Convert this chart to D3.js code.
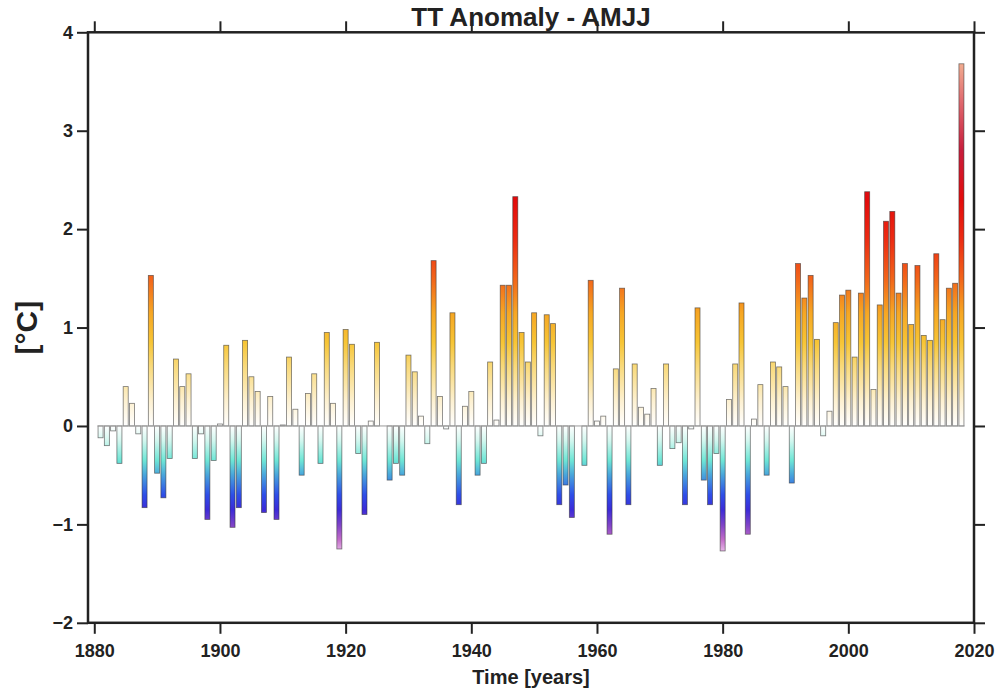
<!DOCTYPE html>
<html>
<head>
<meta charset="utf-8">
<script src="https://cdn.jsdelivr.net/npm/d3@7"></script>
<style>
  html, body { margin: 0; padding: 0; background: #fff; }
  svg { display: block; }
  text { font-family: "Liberation Sans", Arial, Helvetica, sans-serif; font-weight: bold; fill: #222; }
</style>
</head>
<body>
<svg id="chart" width="1001" height="690"></svg>
<script>
// ---------------- data ----------------
const firstYear = 1881;
const anomalies = [
  -0.12, -0.20, -0.05, -0.38, 0.40, 0.23, -0.08, -0.83, 1.53, -0.48,   // 1881-1890
  -0.73, -0.33, 0.68, 0.40, 0.53, -0.33, -0.08, -0.95, -0.35, 0.02,    // 1891-1900
  0.82, -1.03, -0.83, 0.87, 0.50, 0.35, -0.88, 0.30, -0.95, 0.01,      // 1901-1910
  0.70, 0.17, -0.50, 0.33, 0.53, -0.38, 0.95, 0.23, -1.25, 0.98,       // 1911-1920
  0.83, -0.28, -0.90, 0.05, 0.85, 0.00, -0.55, -0.38, -0.50, 0.72,     // 1921-1930
  0.55, 0.10, -0.18, 1.68, 0.30, -0.03, 1.15, -0.80, 0.20, 0.35,       // 1931-1940
  -0.50, -0.38, 0.65, 0.06, 1.43, 1.43, 2.33, 0.95, 0.65, 1.15,        // 1941-1950
  -0.10, 1.13, 1.04, -0.80, -0.60, -0.93, 0.00, -0.40, 1.48, 0.05,     // 1951-1960
  0.10, -1.10, 0.58, 1.40, -0.80, 0.63, 0.19, 0.12, 0.38, -0.40,       // 1961-1970
  0.63, -0.23, -0.17, -0.80, -0.03, 1.20, -0.55, -0.80, -0.28, -1.27,  // 1971-1980
  0.27, 0.63, 1.25, -1.10, 0.07, 0.42, -0.50, 0.65, 0.60, 0.40,        // 1981-1990
  -0.58, 1.65, 1.30, 1.53, 0.88, -0.10, 0.15, 1.05, 1.33, 1.38,        // 1991-2000
  0.70, 1.35, 2.38, 0.37, 1.23, 2.08, 2.18, 1.35, 1.65, 1.03,          // 2001-2010
  1.63, 0.92, 0.87, 1.75, 1.08, 1.40, 1.45, 3.68                       // 2011-2018
];
const years = anomalies.map((_, i) => firstYear + i);
const xTicks = [1880, 1900, 1920, 1940, 1960, 1980, 2000, 2020];
const yTicks = [-2, -1, 0, 1, 2, 3, 4];
const titleText = "TT Anomaly - AMJJ";
const xLabel = "Time [years]";
const yLabel = "[°C]";

// colormap (value -> colour), applied along the value axis
const colorStops = [
  [-1.30, "#f0c8ee"], [-1.15, "#c06ac8"], [-1.00, "#7c42c8"], [-0.85, "#3b2bd8"],
  [-0.70, "#2e4ee8"], [-0.50, "#48a4dc"], [-0.35, "#6ee6d6"], [-0.15, "#d2f7ef"],
  [0.00, "#ffffff"],
  [0.25, "#fdf1d2"], [0.60, "#f9da7c"], [0.85, "#f7c535"], [1.15, "#f6a623"],
  [1.50, "#f2641a"], [1.90, "#ec2b13"], [2.30, "#e30b0b"], [2.80, "#c81d3c"],
  [3.30, "#e06a6f"], [3.75, "#f4b896"]
];

// ---------------- layout ----------------
const svg = d3.select("#chart");
const L = 88, R = 974, T = 32.3, B = 622.8;
const x = d3.scaleLinear().domain([1879, 2020]).range([L, R]);
const y = d3.scaleLinear().domain([-2, 4]).range([B, T]);

// gradient in user space so colour follows the value axis
const defs = svg.append("defs");
const grad = defs.append("linearGradient")
  .attr("id", "valGrad")
  .attr("gradientUnits", "userSpaceOnUse")
  .attr("x1", 0).attr("x2", 0)
  .attr("y1", y(-2)).attr("y2", y(4));
colorStops.forEach(([v, c]) => {
  grad.append("stop")
    .attr("offset", ((v + 2) / 6))
    .attr("stop-color", c);
});

// bars
const bw = 0.8;
svg.append("g").selectAll("rect")
  .data(years.map((yr, i) => ({ yr, v: anomalies[i] })))
  .join("rect")
  .attr("x", d => x(d.yr - bw / 2))
  .attr("width", d => x(d.yr + bw / 2) - x(d.yr - bw / 2))
  .attr("y", d => y(Math.max(0, d.v)))
  .attr("height", d => Math.abs(y(d.v) - y(0)))
  .attr("fill", "url(#valGrad)")
  .attr("stroke", "#333")
  .attr("stroke-opacity", 0.65)
  .attr("stroke-width", 0.8);

// zero baseline
svg.append("line")
  .attr("x1", x(years[0] - 0.5)).attr("x2", x(years[years.length - 1] + 0.5))
  .attr("y1", y(0)).attr("y2", y(0))
  .attr("stroke", "#9a9a9a").attr("stroke-width", 1);

// axes (ticks outward on all four sides)
const tickLen = 11;
function styleAxis(g) {
  g.select(".domain").remove();
  g.selectAll(".tick line").attr("stroke", "#222").attr("stroke-width", 2);
  g.selectAll(".tick text").attr("fill", "#222").style("font-size", "18px").style("font-weight", "bold");
}
svg.append("g").attr("transform", `translate(0,${B})`)
  .call(d3.axisBottom(x).tickValues(xTicks).tickFormat(d3.format("d")).tickSize(tickLen).tickPadding(10))
  .call(styleAxis);
svg.append("g").attr("transform", `translate(0,${T})`)
  .call(d3.axisTop(x).tickValues(xTicks).tickFormat("").tickSize(tickLen))
  .call(styleAxis);
svg.append("g").attr("transform", `translate(${L},0)`)
  .call(d3.axisLeft(y).tickValues(yTicks).tickFormat(d3.format("d")).tickSize(tickLen).tickPadding(4))
  .call(styleAxis);
svg.append("g").attr("transform", `translate(${R},0)`)
  .call(d3.axisRight(y).tickValues(yTicks).tickFormat("").tickSize(tickLen))
  .call(styleAxis);

// box
svg.append("rect")
  .attr("x", L).attr("y", T).attr("width", R - L).attr("height", B - T)
  .attr("fill", "none").attr("stroke", "#222").attr("stroke-width", 2.5);

// title & labels
svg.append("text")
  .attr("x", (L + R) / 2).attr("y", 26)
  .attr("text-anchor", "middle")
  .style("font-size", "26px")
  .text(titleText);
svg.append("text")
  .attr("x", (L + R) / 2).attr("y", 684)
  .attr("text-anchor", "middle")
  .style("font-size", "20px")
  .text(xLabel);
svg.append("text")
  .attr("transform", `translate(37,${(T + B) / 2}) rotate(-90)`)
  .attr("text-anchor", "middle")
  .style("font-size", "30px")
  .text(yLabel);
</script>
</body>
</html>
